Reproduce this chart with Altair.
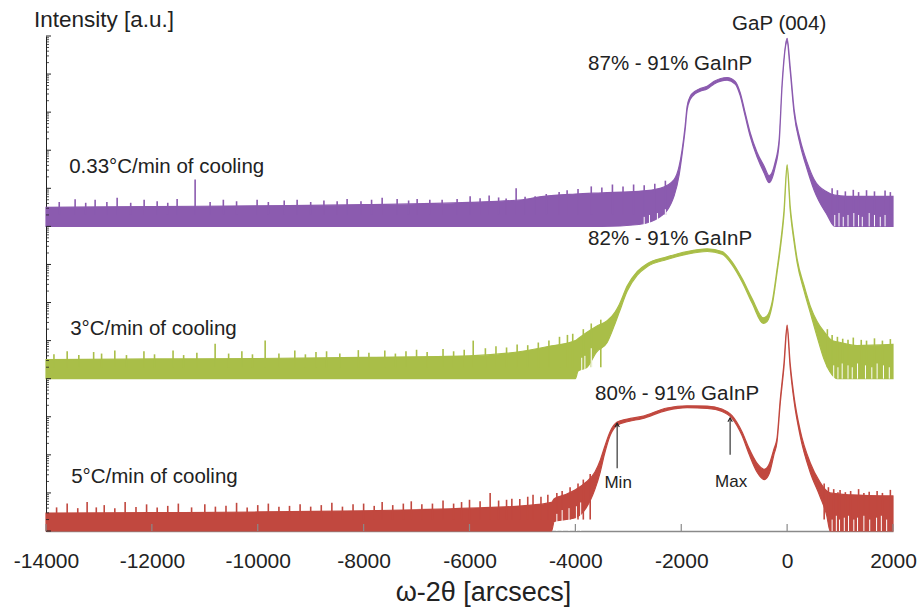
import altair as alt
import pandas as pd

# ---- data ----
# x in arcsec; hi / lo = upper / lower edge of the recorded (noisy) trace, in log10(counts)
red_x  = [-14000, -12000, -10000, -8000, -6000, -5000, -4450, -4400, -4200, -4000, -3800, -3630, -3530, -3450,
          -3340, -3210, -3020, -2740, -2270, -1890, -1510, -1230, -1040, -850, -720, -570, -430, -340, -250,
          -190, -130, -60, 0, 57, 132, 246, 434, 623, 750, 812, 1200, 2000]
red_hi = [0.47, 0.48, 0.50, 0.53, 0.60, 0.66, 0.75, 0.85, 0.95, 1.08, 1.28, 1.55, 1.86, 2.20,
          2.62, 2.86, 2.94, 3.01, 3.23, 3.29, 3.28, 3.20, 3.03, 2.60, 2.17, 1.78, 1.62, 1.75, 2.15,
          2.45, 3.45, 4.40, 5.41, 4.41, 3.52, 2.65, 1.80, 1.28, 1.05, 1.00, 0.95, 0.92]
red_lo = [0, 0, 0, 0, 0, 0, 0, 0.25, 0.30, 0.35, 0.60, 1.10, 1.55, 2.02,
          2.52, 2.78, 2.87, 2.95, 3.17, 3.24, 3.22, 3.14, 2.96, 2.50, 2.02, 1.55, 1.35, 1.50, 2.00,
          2.35, 3.35, 4.30, 5.30, 4.31, 3.40, 2.50, 1.55, 0.90, 0.40, 0, 0, 0]

green_x  = [-14000, -12000, -10000, -8000, -6000, -5000, -4500, -4000, -3950, -3780, -3600, -3400, -3250, -3170,
            -3020, -2830, -2645, -2270, -1890, -1510, -1230, -1040, -850, -660, -450, -380, -283, -189, -130,
            -60, 0, 60, 130, 189, 321, 434, 567, 700, 850, 945, 1320, 2000]
green_hi = [0.50, 0.52, 0.53, 0.56, 0.60, 0.72, 0.85, 1.00, 1.05, 1.22, 1.38, 1.52, 1.75, 1.95,
            2.44, 2.82, 3.02, 3.20, 3.34, 3.41, 3.34, 3.07, 2.63, 2.10, 1.60, 1.65, 2.02, 2.89, 3.50,
            4.40, 5.62, 4.50, 3.70, 3.15, 2.44, 1.92, 1.50, 1.23, 1.00, 0.97, 0.87, 0.90]
green_lo = [0, 0, 0, 0, 0, 0, 0, 0, 0.20, 0.30, 0.70, 0.95, 1.45, 1.75,
            2.30, 2.72, 2.94, 3.13, 3.27, 3.34, 3.27, 2.99, 2.54, 1.98, 1.45, 1.50, 1.92, 2.80, 3.40,
            4.30, 5.52, 4.40, 3.60, 3.05, 2.30, 1.75, 1.10, 0.50, 0.10, 0, 0, 0]

purple_x  = [-14000, -12000, -10000, -8000, -6000, -5000, -4600, -4000, -3500, -2800, -2400, -2135, -2040, -1983,
             -1927, -1889, -1832, -1738, -1643, -1511, -1379, -1133, -982, -888, -793, -699, -567, -434, -340,
             -227, -151, -94, 0, 57, 132, 246, 378, 510, 756, 900, 1133, 2000]
purple_hi = [0.50, 0.52, 0.54, 0.57, 0.63, 0.70, 0.79, 0.85, 0.88, 0.92, 1.00, 1.23, 1.58, 2.02,
             2.63, 3.15, 3.41, 3.55, 3.62, 3.68, 3.81, 3.91, 3.81, 3.52, 2.99, 2.47, 1.94, 1.58, 1.33,
             1.68, 2.28, 3.78, 4.94, 4.20, 3.07, 2.28, 1.68, 1.23, 0.90, 0.82, 0.79, 0.79]
purple_lo = [0, 0, 0, 0, 0, 0, 0, 0, 0, 0.05, 0.25, 0.80, 1.35, 1.90,
             2.53, 3.06, 3.33, 3.48, 3.55, 3.61, 3.74, 3.84, 3.74, 3.44, 2.90, 2.37, 1.82, 1.40, 1.15,
             1.55, 2.18, 3.70, 4.84, 4.10, 2.97, 2.15, 1.50, 0.95, 0.30, 0, 0, 0]

# noise spikes above the band (x, top in log10 counts)
red_spike_x = [-13800, -13600, -13400, -13223, -13050, -12900, -12700, -12505, -12300, -12100, -11900, -11700,
               -11500, -11250, -11000, -10800, -10600, -10400, -10200, -10000, -9800, -9600, -9400, -9200,
               -9000, -8800, -8600, -8400, -8200, -8000, -7800, -7650, -7450, -7250, -7100, -6900, -6700,
               -6500, -6300, -6150, -6000, -5800, -5610, -5450, -5300, -5200, -5050, -4900, -4800, -4650,
               -4520, -4350, -4250, -4100, -3950, -3850, -3720,
               700, 780, 880, 960, 1000, 1100, 1200, 1350, 1450, 1550, 1700, 1800, 1950]
red_spike_t = [0.62, 0.72, 0.60, 0.76, 0.62, 0.68, 0.60, 0.76, 0.63, 0.70, 0.62, 0.66,
               0.72, 0.62, 0.70, 0.64, 0.66, 0.74, 0.62, 0.68, 0.72, 0.64, 0.66, 0.70,
               0.64, 0.68, 0.74, 0.64, 0.70, 0.72, 0.66, 0.76, 0.68, 0.72, 0.78, 0.70, 0.72,
               0.80, 0.72, 0.76, 0.82, 0.78, 1.00, 0.80, 0.82, 0.85, 0.84, 0.90, 0.95, 0.90,
               0.95, 1.00, 1.05, 1.15, 1.25, 1.35, 1.50,
               1.25, 1.15, 1.10, 1.02, 1.08, 1.02, 1.05, 1.10, 1.00, 1.03, 1.05, 1.00, 1.08]

green_spike_x = [-13850, -13600, -13380, -13100, -12950, -12700, -12480, -12150, -11950, -11600, -11400, -11150,
                 -10805, -10550, -10300, -10100, -9860, -9600, -9300, -9100, -8900, -8700, -8450, -8100,
                 -7900, -7600, -7400, -7200, -7000, -6800, -6500, -6300, -6100, -5930, -5700, -5500, -5300,
                 -5100, -4900, -4700, -4500, -4300, -4150, -4050, -3850, -3700, -3520,
                 760, 850, 950, 1050, 1150, 1250, 1400, 1500, 1650, 1800, 1950]
green_spike_t = [0.64, 0.72, 0.62, 0.70, 0.66, 0.74, 0.62, 0.72, 0.64, 0.74, 0.62, 0.68,
                 0.92, 0.66, 0.72, 0.64, 1.00, 0.66, 0.74, 0.64, 0.70, 0.72, 0.66, 0.75,
                 0.68, 0.74, 0.66, 0.72, 0.76, 0.70, 0.78, 0.72, 0.76, 1.00, 0.80, 0.85, 0.82,
                 0.90, 0.88, 0.95, 1.00, 1.10, 1.15, 1.18, 1.30, 1.45, 1.55,
                 1.30, 1.15, 1.10, 1.05, 1.02, 1.08, 1.02, 1.00, 1.06, 1.00, 1.04]

purple_spike_x = [-13750, -13450, -13250, -13072, -12850, -12656, -12400, -12146, -11900, -11700, -11523, -11183,
                  -10900, -10650, -10400, -10012, -9800, -9500, -9256, -9000, -8750, -8500, -8312, -8050,
                  -7850, -7650, -7367, -7150, -6989, -6750, -6517, -6234, -5988, -5800, -5629, -5450, -5308,
                  -5119, -4950, -4760, -4550, -4307, -4156, -3950, -3700, -3500, -3300, -3100, -2900, -2700,
                  -2500, -2300, 850, 950, 1100, 1250, 1350, 1500, 1650, 1850, 1950]
purple_spike_t = [0.64, 0.71, 0.62, 0.70, 0.64, 0.75, 0.62, 0.70, 0.66, 0.62, 0.72, 1.23,
                  0.64, 0.70, 0.66, 0.70, 0.64, 0.68, 0.70, 0.64, 0.68, 0.66, 0.72, 0.66,
                  0.70, 0.75, 0.72, 0.68, 0.72, 0.70, 0.70, 0.72, 0.79, 0.74, 0.81, 0.76, 0.73,
                  1.00, 0.78, 0.79, 0.85, 0.90, 0.95, 0.98, 1.05, 1.02, 1.10, 1.05, 1.10, 1.08,
                  1.12, 1.20, 1.00, 0.95, 0.92, 0.96, 0.90, 0.95, 0.92, 0.94, 0.90]

# white gaps inside the noisy band (x, gap top in log10 counts; gaps start at the floor)
red_gap_x = [-4350, -4250, -4120, -3980, -3900, 850, 930, 990, 1080, 1160, 1260, 1330, 1450, 1560, 1690, 1780, 1880]
red_gap_t = [0.45, 0.55, 0.60, 0.65, 0.75, 0.30, 0.40, 0.30, 0.35, 0.40, 0.30, 0.35, 0.40, 0.30, 0.35, 0.40, 0.30]
green_gap_x = [-3880, -3820, -3700, 880, 960, 1040, 1150, 1230, 1330, 1480, 1600, 1700, 1820, 1930]
green_gap_t = [0.55, 0.60, 0.80, 0.35, 0.30, 0.40, 0.35, 0.30, 0.40, 0.35, 0.30, 0.40, 0.35, 0.30]
purple_gap_x = [-2700, -2600, -2450, -2300, 900, 980, 1060, 1150, 1260, 1350, 1420, 1550, 1650, 1760, 1850]
purple_gap_t = [0.25, 0.30, 0.35, 0.45, 0.30, 0.35, 0.25, 0.30, 0.35, 0.30, 0.25, 0.35, 0.30, 0.25, 0.30]

trace_names   = ["5°C/min", "3°C/min", "0.33°C/min"]
trace_offsets = [0, 4, 8]          # decades of vertical offset
trace_colors  = ["#c1483f", "#a9be48", "#8b5baf"]

x_ticks = [-14000, -12000, -10000, -8000, -6000, -4000, -2000, 0, 2000]

# ---- tables ----
series = [(red_x, red_hi, red_lo, red_spike_x, red_spike_t, red_gap_x, red_gap_t),
          (green_x, green_hi, green_lo, green_spike_x, green_spike_t, green_gap_x, green_gap_t),
          (purple_x, purple_hi, purple_lo, purple_spike_x, purple_spike_t, purple_gap_x, purple_gap_t)]
band_rows, spike_rows, gap_rows = [], [], []
for name, off, col, (xs, hi, lo, sx, st, gx, gt) in zip(trace_names, trace_offsets, trace_colors, series):
    for x, h, l in zip(xs, hi, lo):
        band_rows.append(dict(trace=name, x=x, hi=10 ** (h + off), lo=10 ** (l + off), color=col))
    for x, t in zip(sx, st):
        spike_rows.append(dict(trace=name, x=x, base=10 ** (off + 0.3), top=10 ** (t + off), color=col))
    for x, t in zip(gx, gt):
        gap_rows.append(dict(trace=name, x=x, base=10 ** off, top=10 ** (t + off)))
band = pd.DataFrame(band_rows)
spikes = pd.DataFrame(spike_rows)
gaps = pd.DataFrame(gap_rows)

major = pd.DataFrame({"v": [10.0 ** n for n in range(0, 14)]})
minor = pd.DataFrame({"v": [m * 10.0 ** n for n in range(0, 13) for m in range(2, 10)]})
xt = pd.DataFrame({"x": x_ticks})

FONT = "Liberation Sans"
xscale = alt.Scale(domain=[-14000, 2000], nice=False, zero=False)
yscale = alt.Scale(type="log", domain=[1, 1e13], nice=False)

xaxis = alt.Axis(values=x_ticks, grid=False, ticks=False, tickSize=0, domainColor="#8a8a8a", domainWidth=1.5,
                 labelFont=FONT, labelFontSize=21, labelColor="#222222", labelBaseline="alphabetic",
                 labelPadding=36, labelExpr="'' + datum.value", labelFlush=False,
                 title="ω-2θ [arcsecs]", titleFont=FONT, titleFontSize=27, titleFontWeight="normal",
                 titleColor="#222222", titleBaseline="alphabetic", titleY=69, titleX=437, titleAlign="center")
yaxis = alt.Axis(grid=False, ticks=False, labels=False, domainColor="#222222", title=None)

areas = alt.Chart(band).mark_area(interpolate="monotone", strokeWidth=1.2).encode(
    x=alt.X("x:Q", scale=xscale, axis=xaxis),
    y=alt.Y("lo:Q", scale=yscale, axis=yaxis),
    y2="hi:Q",
    color=alt.Color("color:N", scale=None),
    stroke=alt.Stroke("color:N", scale=None),
    detail="trace:N",
)

spk = alt.Chart(spikes).mark_rule(strokeWidth=1.6).encode(
    x="x:Q", y="base:Q", y2="top:Q", color=alt.Color("color:N", scale=None)
)
gp = alt.Chart(gaps).mark_rule(strokeWidth=1, color="white").encode(x="x:Q", y="base:Q", y2="top:Q")

ymaj = alt.Chart(major).mark_rule(color="#222222", strokeWidth=1).encode(
    y="v:Q", x=alt.value(0), x2=alt.value(5))
ymin = alt.Chart(minor).mark_rule(color="#222222", strokeWidth=0.8).encode(
    y="v:Q", x=alt.value(0), x2=alt.value(3))
xtk = alt.Chart(xt).mark_rule(color="#8a8a8a", strokeWidth=1.2).encode(
    x="x:Q", y=alt.value(495), y2=alt.value(488))

# annotations (positions in data units)
ann_center = pd.DataFrame({
    "text": ["GaP (004)", "87% - 91% GaInP", "82% - 91% GaInP", "80% - 91% GaInP"],
    "x": [-151, -2210, -2210, -2078],
    "y": [10 ** 13.16, 10 ** 12.11, 10 ** 7.51, 10 ** 3.44],
})
ann_left = pd.DataFrame({
    "text": ["0.33°C/min of cooling", "3°C/min of cooling", "5°C/min of cooling"],
    "x": [-13563, -13544, -13525],
    "y": [10 ** 9.40, 10 ** 5.15, 10 ** 1.26],
})
ann_small = pd.DataFrame({"text": ["Min", "Max"], "x": [-3192, -1058], "y": [10 ** 1.13, 10 ** 1.16]})
arrows = pd.DataFrame({"x": [-3211, -1077], "y0": [10 ** 1.65, 10 ** 2.0], "y1": [10 ** 2.83, 10 ** 2.97]})

t_center = alt.Chart(ann_center).mark_text(font=FONT, fontSize=20.5, color="#222222", align="center",
                                           baseline="alphabetic").encode(x="x:Q", y="y:Q", text="text:N")
t_left = alt.Chart(ann_left).mark_text(font=FONT, fontSize=20.5, color="#222222", align="left",
                                       baseline="alphabetic").encode(x="x:Q", y="y:Q", text="text:N")
t_small = alt.Chart(ann_small).mark_text(font=FONT, fontSize=17, color="#222222", align="center",
                                         baseline="alphabetic").encode(x="x:Q", y="y:Q", text="text:N")
arr_line = alt.Chart(arrows).mark_rule(color="#222222", strokeWidth=1.1).encode(x="x:Q", y="y0:Q", y2="y1:Q")
arr_head = alt.Chart(arrows).mark_point(shape="M -0.35 0.6 L 0 0 L 0.35 0.6", filled=False, size=160,
                                        color="#222222", strokeWidth=1.1, opacity=1).encode(x="x:Q", y="y1:Q")

ytitle = alt.Chart(pd.DataFrame({"t": ["Intensity [a.u.]"]})).mark_text(
    font=FONT, fontSize=22.5, color="#222222", align="center", baseline="alphabetic"
).encode(x=alt.value(58), y=alt.value(-9), text="t:N")

chart = alt.layer(
    areas, spk, gp, ymaj, ymin, xtk, t_center, t_left, t_small, arr_line, arr_head, ytitle
).properties(
    width=847, height=495,
    autosize=alt.AutoSizeParams(type="none"),
    padding={"left": 46, "top": 36, "right": 27, "bottom": 76},
    background="white",
).configure_view(strokeWidth=0)

chart.save("out.html", embed_options={"renderer": "svg", "actions": False})
